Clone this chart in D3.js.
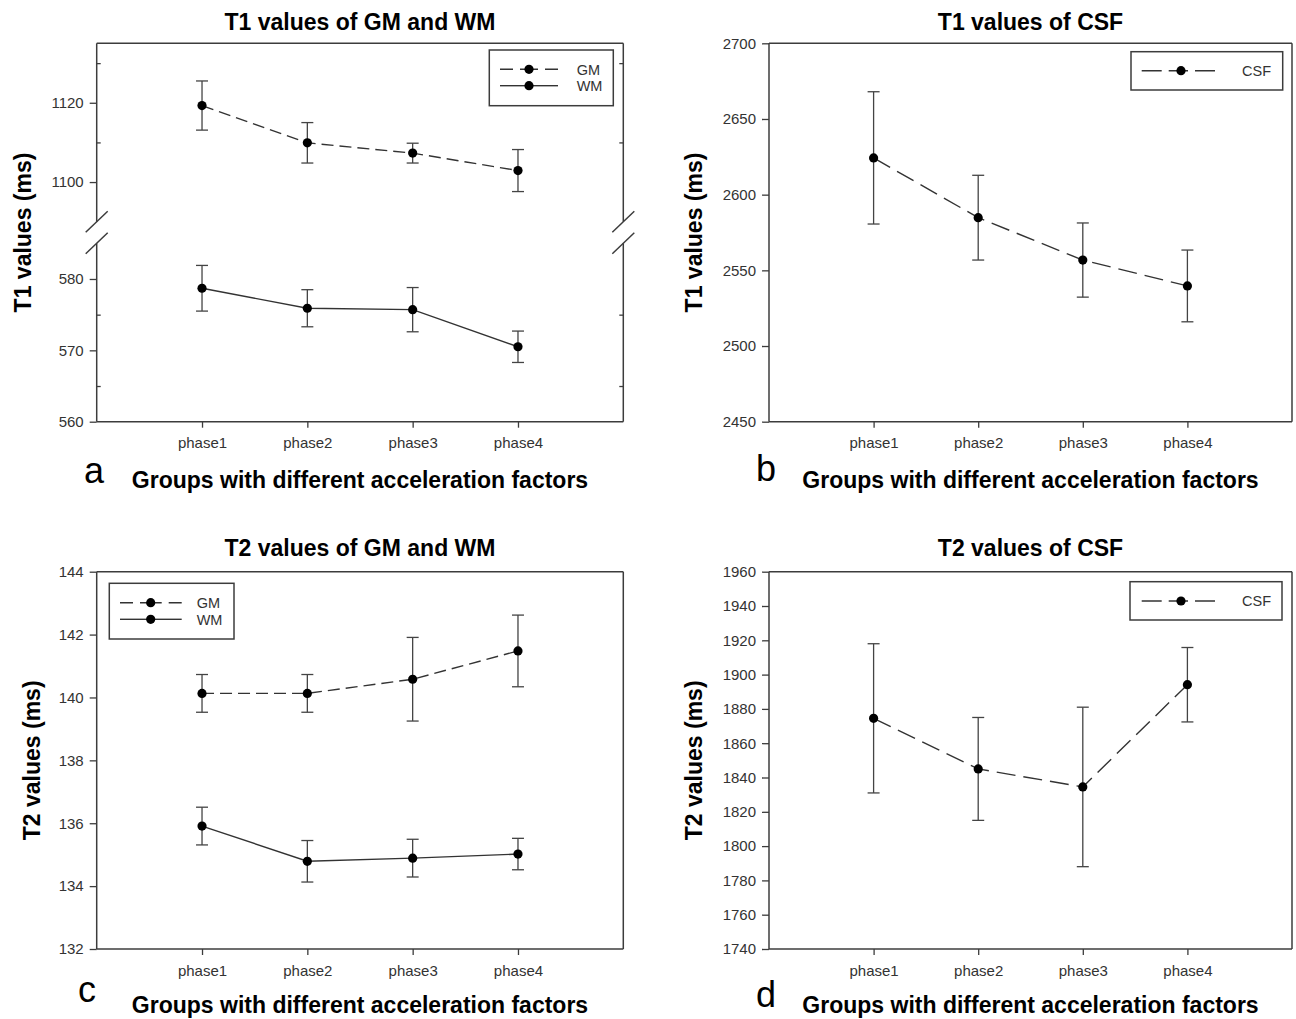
<!DOCTYPE html>
<html>
<head>
<meta charset="utf-8">
<script src="https://cdn.jsdelivr.net/npm/d3@7"></script>
<style>
  body { margin: 0; background: #fff; }
  svg { display: block; font-family: "Liberation Sans", Arial, sans-serif; }
</style>
</head>
<body>
<svg id="chart" width="1296" height="1019"></svg>
<script>
// categories
const phases = ['phase1', 'phase2', 'phase3', 'phase4'];

// T1 values (ms): mean and half error bar
const t1GM = [1119.3, 1109.9, 1107.3, 1102.9];
const t1GMErr = [6.2, 5.1, 2.5, 5.3];
const t1WM = [578.7, 575.9, 575.7, 570.5];
const t1WMErr = [3.2, 2.6, 3.1, 2.2];
const t1CSF = [2624.3, 2584.8, 2556.8, 2539.7];
const t1CSFErr = [43.7, 28.0, 24.5, 23.7];

// T2 values (ms)
const t2GM = [140.13, 140.13, 140.58, 141.48];
const t2GMErr = [0.60, 0.60, 1.33, 1.14];
const t2WM = [135.91, 134.79, 134.89, 135.02];
const t2WMErr = [0.60, 0.66, 0.60, 0.50];
const t2CSF = [1874.5, 1845.0, 1834.5, 1894.1];
const t2CSFErr = [43.5, 30.0, 46.5, 21.7];

// tick labels
const t1LowTicks = [560, 570, 580];
const t1LowMinor = [565, 575];
const t1HighTicks = [1100, 1120];
const t1HighMinor = [1110, 1130];
const t1CSFTicks = [2450, 2500, 2550, 2600, 2650, 2700];
const t2Ticks = [132, 134, 136, 138, 140, 142, 144];
const t2CSFTicks = [1740, 1760, 1780, 1800, 1820, 1840, 1860, 1880, 1900, 1920, 1940, 1960];

const svg = d3.select('#chart');
const AX = '#3c3c3c';
const GM_DASH = '12,6';
const CSF_DASH = '19,8';

const panels = [
  {
    letter: 'a', title: 'T1 values of GM and WM', yTitle: 'T1 values (ms)',
    left: 96.7, right: 623.3, top: 43.3, bottom: 421.7,
    titleY: 30, yTitleX: 31, xTitleY: 488, letterX: 84, letterY: 483,
    segments: [
      { domain: [560, 585], range: [421.7, 243.3], major: t1LowTicks, minor: t1LowMinor },
      { domain: [1090, 1135], range: [221.7, 43.3], major: t1HighTicks, minor: t1HighMinor }
    ],
    series: [
      { name: 'GM', values: t1GM, err: t1GMErr, seg: 1, dash: GM_DASH },
      { name: 'WM', values: t1WM, err: t1WMErr, seg: 0, dash: null }
    ],
    legend: { x: 489.3, y: 50, w: 124, h: 55.7, rows: [69.3, 85.7], x0: 500, x1: 558, mx: 529, tx: 576.7, anchor: 'start', dashes: ['13,7', null] }
  },
  {
    letter: 'b', title: 'T1 values of CSF', yTitle: 'T1 values (ms)',
    left: 769, right: 1292, top: 43.3, bottom: 421.7,
    titleY: 30, yTitleX: 702, xTitleY: 488, letterX: 756, letterY: 481,
    segments: [
      { domain: [2450, 2700], range: [421.7, 43.3], major: t1CSFTicks, minor: [] }
    ],
    series: [
      { name: 'CSF', values: t1CSF, err: t1CSFErr, seg: 0, dash: CSF_DASH }
    ],
    legend: { x: 1131, y: 51.7, w: 151.7, h: 38.3, rows: [70.7], x0: 1141.7, x1: 1215, mx: 1181, tx: 1271, anchor: 'end', dashes: ['20,7'] }
  },
  {
    letter: 'c', title: 'T2 values of GM and WM', yTitle: 'T2 values (ms)',
    left: 96.7, right: 623.3, top: 571.7, bottom: 949,
    titleY: 556, yTitleX: 39.5, xTitleY: 1013, letterX: 78, letterY: 1002,
    segments: [
      { domain: [132, 144], range: [949, 571.7], major: t2Ticks, minor: [] }
    ],
    series: [
      { name: 'GM', values: t2GM, err: t2GMErr, seg: 0, dash: GM_DASH },
      { name: 'WM', values: t2WM, err: t2WMErr, seg: 0, dash: null }
    ],
    legend: { x: 109.3, y: 583.3, w: 124.7, h: 55.7, rows: [602.7, 619.3], x0: 120, x1: 181.7, mx: 150.7, tx: 196.7, anchor: 'start', dashes: ['13,7', null] }
  },
  {
    letter: 'd', title: 'T2 values of CSF', yTitle: 'T2 values (ms)',
    left: 769, right: 1292, top: 571.7, bottom: 949,
    titleY: 556, yTitleX: 702, xTitleY: 1013, letterX: 756, letterY: 1007,
    segments: [
      { domain: [1740, 1960], range: [949, 571.7], major: t2CSFTicks, minor: [] }
    ],
    series: [
      { name: 'CSF', values: t2CSF, err: t2CSFErr, seg: 0, dash: CSF_DASH }
    ],
    legend: { x: 1130, y: 581.7, w: 152, h: 38.3, rows: [601], x0: 1141.7, x1: 1215, mx: 1181, tx: 1271, anchor: 'end', dashes: ['20,7'] }
  }
];

function styleAxis(ax) {
  ax.attr('font-family', null).attr('font-size', 15).attr('color', AX);
  ax.selectAll('line').attr('stroke-width', 1.3);
  ax.selectAll('text').attr('fill', '#333');
  ax.select('.domain').remove();
}

function drawPanel(p) {
  const g = svg.append('g');
  const x = d3.scalePoint().domain(phases).range([p.left, p.right]).padding(1);
  const ys = p.segments.map(s => d3.scaleLinear().domain(s.domain).range(s.range));

  // frame
  const frame = g.append('g').attr('stroke', AX).attr('stroke-width', 1.5);
  frame.append('line').attr('x1', p.left).attr('x2', p.right).attr('y1', p.top).attr('y2', p.top);
  frame.append('line').attr('x1', p.left).attr('x2', p.right).attr('y1', p.bottom).attr('y2', p.bottom);
  p.segments.forEach(s => {
    [p.left, p.right].forEach(xx => {
      frame.append('line').attr('x1', xx).attr('x2', xx).attr('y1', s.range[0]).attr('y2', s.range[1]);
    });
  });

  // axis break marks
  if (p.segments.length > 1) {
    const ends = [p.segments[0].range[1], p.segments[1].range[0]];
    [p.left, p.right].forEach(xx => {
      ends.forEach(yy => {
        frame.append('line').attr('x1', xx - 11).attr('y1', yy + 10.5).attr('x2', xx + 11).attr('y2', yy - 10.5);
      });
    });
  }

  // y axes
  p.segments.forEach((s, i) => {
    const ax = g.append('g').attr('transform', `translate(${p.left},0)`)
      .call(d3.axisLeft(ys[i]).tickValues(s.major).tickFormat(d3.format('d')).tickSize(7).tickPadding(6));
    styleAxis(ax);
    if (s.minor.length) {
      const mL = g.append('g').attr('transform', `translate(${p.left},0)`)
        .call(d3.axisLeft(ys[i]).tickValues(s.minor).tickSize(-4).tickFormat(''));
      styleAxis(mL);
      const mR = g.append('g').attr('transform', `translate(${p.right},0)`)
        .call(d3.axisRight(ys[i]).tickValues(s.minor).tickSize(-4).tickFormat(''));
      styleAxis(mR);
    }
  });

  // x axis
  const xa = g.append('g').attr('transform', `translate(0,${p.bottom})`)
    .call(d3.axisBottom(x).tickSize(6));
  styleAxis(xa);
  xa.selectAll('text').attr('y', 26.5).attr('dy', 0);

  // series
  p.series.forEach(s => {
    const y = ys[s.seg];
    const line = d3.line().x((d, i) => x(phases[i])).y(d => y(d));
    g.append('path').datum(s.values)
      .attr('d', line)
      .attr('fill', 'none')
      .attr('stroke', '#333')
      .attr('stroke-width', 1.4)
      .attr('stroke-dasharray', s.dash);

    const eb = g.append('g').attr('stroke', '#444').attr('stroke-width', 1.3);
    s.values.forEach((v, i) => {
      const cx = x(phases[i]);
      const yHi = y(v + s.err[i]);
      const yLo = y(v - s.err[i]);
      eb.append('line').attr('x1', cx).attr('x2', cx).attr('y1', yHi).attr('y2', yLo);
      eb.append('line').attr('x1', cx - 6).attr('x2', cx + 6).attr('y1', yHi).attr('y2', yHi);
      eb.append('line').attr('x1', cx - 6).attr('x2', cx + 6).attr('y1', yLo).attr('y2', yLo);
    });

    g.append('g').selectAll('circle').data(s.values).join('circle')
      .attr('cx', (d, i) => x(phases[i]))
      .attr('cy', d => y(d))
      .attr('r', 4.6)
      .attr('fill', '#000');
  });

  // legend
  const L = p.legend;
  const lg = g.append('g');
  lg.append('rect').attr('x', L.x).attr('y', L.y).attr('width', L.w).attr('height', L.h)
    .attr('fill', '#fff').attr('stroke', AX).attr('stroke-width', 1.5);
  p.series.forEach((s, i) => {
    const ry = L.rows[i];
    [L.x0, L.x1].forEach(xx => {
      lg.append('line').attr('x1', xx).attr('x2', L.mx).attr('y1', ry).attr('y2', ry)
        .attr('stroke', '#333').attr('stroke-width', 1.4)
        .attr('stroke-dasharray', L.dashes[i]);
    });
    lg.append('circle').attr('cx', L.mx).attr('cy', ry).attr('r', 4.6).attr('fill', '#000');
    lg.append('text').attr('x', L.tx).attr('y', ry + 5.2)
      .attr('text-anchor', L.anchor).attr('font-size', 14.5).attr('fill', '#333')
      .text(s.name);
  });

  // titles
  const cx = (p.left + p.right) / 2;
  g.append('text').attr('x', cx).attr('y', p.titleY)
    .attr('text-anchor', 'middle').attr('font-size', 23).attr('font-weight', 'bold')
    .text(p.title);
  g.append('text').attr('x', cx).attr('y', p.xTitleY)
    .attr('text-anchor', 'middle').attr('font-size', 23).attr('font-weight', 'bold')
    .text('Groups with different acceleration factors');
  g.append('text')
    .attr('transform', `translate(${p.yTitleX},${(p.top + p.bottom) / 2}) rotate(-90)`)
    .attr('text-anchor', 'middle').attr('font-size', 23).attr('font-weight', 'bold')
    .text(p.yTitle);
  g.append('text').attr('x', p.letterX).attr('y', p.letterY)
    .attr('font-size', 36)
    .text(p.letter);
}

panels.forEach(drawPanel);
</script>
</body>
</html>
